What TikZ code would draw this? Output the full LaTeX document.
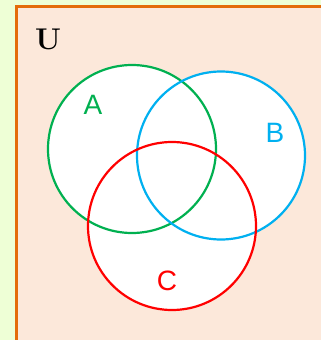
\documentclass[tikz,border=0pt]{standalone}
\usepackage{fontspec}
\newfontfamily\labelfont{Liberation Sans}
\begin{document}
\begin{tikzpicture}[x=1pt,y=-1pt,
  setcircle/.style={line width=2.2pt},
  setlabel/.style={font=\labelfont\fontsize{28}{28}\selectfont, inner sep=0pt}]
\definecolor{bggreen}{HTML}{EEFFD6}
\definecolor{peach}{HTML}{FCE8DA}
\definecolor{border}{HTML}{E46C0A}
\definecolor{cgreen}{HTML}{00B050}
\definecolor{cblue}{HTML}{00B0F0}
\definecolor{cred}{HTML}{FF0000}
\useasboundingbox (0,0) rectangle (321,340);
\fill[bggreen] (0,0) rectangle (321,340);
\fill[peach] (16,6.5) rectangle (330,350);
\draw[border, line width=3pt] (16,350) -- (16,6.5) -- (330,6.5);
\node[font=\bfseries\fontsize{30}{30}\selectfont, inner sep=0pt] (U) at (48,39) {U};
\fill[white] (132,149) circle (84);
\fill[white] (221,155.5) circle (84);
\fill[white] (172,226) circle (84);
\draw[setcircle, cgreen] (132,149) circle (84);
\draw[setcircle, cblue] (221,155.5) circle (84);
\draw[setcircle, cred] (172,226) circle (84);
\node[setlabel, text=cgreen] (A) at (93,105) {A};
\node[setlabel, text=cblue] (B) at (275,133) {B};
\node[setlabel, text=cred] (C) at (167,281) {C};
\end{tikzpicture}
\end{document}
